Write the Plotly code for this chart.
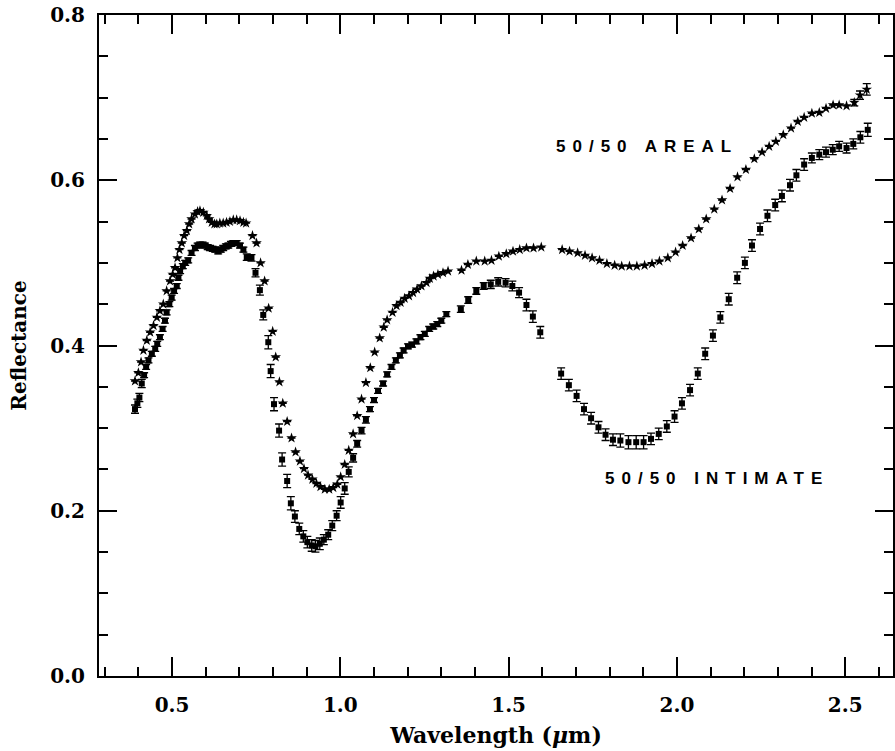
import plotly.graph_objects as go

# ---------------- data ----------------
areal_x = [0.390, 0.400, 0.408, 0.415, 0.425, 0.435, 0.445, 0.455, 0.464, 0.474,
           0.484, 0.494, 0.502, 0.509, 0.516, 0.522, 0.529, 0.536, 0.544, 0.551,
           0.558, 0.568, 0.576, 0.583, 0.593, 0.603, 0.610, 0.618, 0.626, 0.633,
           0.642, 0.652, 0.662, 0.672, 0.682, 0.692, 0.702, 0.712, 0.720,
           0.739, 0.751, 0.763, 0.775, 0.787, 0.799, 0.808, 0.819, 0.829, 0.842,
           0.855, 0.867, 0.880, 0.892, 0.904, 0.917, 0.929, 0.941, 0.954, 0.967,
           0.979, 0.991, 1.001, 1.013, 1.025, 1.038, 1.050, 1.063, 1.076,
           1.089, 1.102, 1.117, 1.129, 1.139, 1.155, 1.167, 1.179, 1.191, 1.204,
           1.216, 1.228, 1.241, 1.256, 1.266, 1.277, 1.290, 1.305, 1.320,
           1.360, 1.379, 1.404, 1.429, 1.449, 1.471, 1.493, 1.513, 1.533, 1.553, 1.574, 1.597,
           1.659, 1.681, 1.705, 1.727, 1.748, 1.770, 1.792, 1.815, 1.836, 1.859,
           1.881, 1.904, 1.926, 1.948, 1.973, 1.996, 2.017, 2.042, 2.065, 2.087,
           2.111, 2.134, 2.158, 2.180, 2.205, 2.230, 2.253, 2.274, 2.294, 2.316,
           2.339, 2.359, 2.378, 2.401, 2.423, 2.443, 2.464, 2.482, 2.504, 2.527,
           2.544, 2.564]
areal_y = [0.357, 0.367, 0.380, 0.394, 0.406, 0.416, 0.424, 0.434, 0.442, 0.450,
           0.466, 0.478, 0.486, 0.494, 0.506, 0.516, 0.524, 0.533, 0.539, 0.547,
           0.553, 0.559, 0.562, 0.563, 0.561, 0.557, 0.553, 0.549, 0.547, 0.547,
           0.548, 0.548, 0.549, 0.550, 0.552, 0.552, 0.551, 0.549, 0.548,
           0.533, 0.524, 0.500, 0.478, 0.445, 0.417, 0.386, 0.356, 0.330, 0.308,
           0.288, 0.271, 0.260, 0.251, 0.243, 0.238, 0.233, 0.229, 0.226, 0.226,
           0.228, 0.232, 0.241, 0.256, 0.273, 0.293, 0.315, 0.335, 0.355,
           0.373, 0.392, 0.409, 0.422, 0.431, 0.440, 0.448, 0.452, 0.457, 0.460,
           0.464, 0.468, 0.472, 0.476, 0.481, 0.484, 0.486, 0.488, 0.490,
           0.491, 0.498, 0.502, 0.502, 0.503, 0.508, 0.511, 0.514, 0.516, 0.518, 0.518, 0.519,
           0.516, 0.514, 0.512, 0.509, 0.506, 0.503, 0.499, 0.497, 0.496, 0.496,
           0.496, 0.497, 0.499, 0.502, 0.506, 0.513, 0.521, 0.530, 0.541, 0.553,
           0.565, 0.576, 0.590, 0.604, 0.613, 0.626, 0.634, 0.641, 0.647, 0.655,
           0.663, 0.671, 0.676, 0.681, 0.682, 0.687, 0.691, 0.691, 0.690, 0.694,
           0.703, 0.710]
areal_err = [0, 0, 0, 0, 0, 0, 0, 0, 0, 0,
             0, 0, 0, 0, 0, 0, 0, 0, 0, 0,
             0, 0, 0, 0, 0, 0, 0, 0, 0, 0,
             0, 0, 0, 0, 0, 0, 0, 0, 0,
             0, 0, 0, 0, 0, 0, 0, 0, 0, 0,
             0, 0, 0, 0, 0, 0, 0, 0, 0, 0,
             0, 0, 0, 0, 0, 0, 0, 0, 0,
             0, 0, 0, 0, 0, 0, 0, 0, 0, 0,
             0, 0, 0, 0, 0, 0, 0, 0, 0,
             0, 0, 0, 0, 0, 0, 0, 0, 0, 0, 0, 0,
             0, 0, 0, 0, 0, 0, 0, 0, 0, 0,
             0, 0, 0, 0, 0, 0, 0, 0, 0, 0,
             0, 0, 0, 0, 0, 0, 0, 0, 0, 0,
             0, 0, 0, 0, 0, 0, 0, 0, 0, 0.004,
             0.005, 0.007]

intimate_x = [0.390, 0.397, 0.403, 0.410, 0.417, 0.423, 0.430, 0.440, 0.450, 0.456,
              0.464, 0.472, 0.479, 0.484, 0.492, 0.499, 0.506, 0.514, 0.519, 0.524,
              0.532, 0.539, 0.548, 0.558, 0.568, 0.576, 0.583, 0.591, 0.598, 0.606,
              0.613, 0.621, 0.628, 0.637, 0.645, 0.652, 0.660, 0.667, 0.675, 0.682,
              0.692, 0.702, 0.712,
              0.722, 0.736, 0.748, 0.761, 0.771, 0.786, 0.793, 0.803, 0.818, 0.827,
              0.842, 0.853, 0.865, 0.878, 0.890, 0.902, 0.915, 0.926, 0.939, 0.951,
              0.964, 0.976, 0.989, 1.001, 1.013, 1.025, 1.038, 1.050, 1.063, 1.076,
              1.088, 1.100, 1.112, 1.127, 1.139, 1.152, 1.165, 1.177, 1.188, 1.201,
              1.213, 1.226, 1.238, 1.251, 1.264, 1.276, 1.288, 1.300, 1.315,
              1.358, 1.380, 1.404, 1.426, 1.447, 1.469, 1.491, 1.511, 1.531, 1.553, 1.572, 1.594,
              1.656, 1.679, 1.702, 1.724, 1.745, 1.767, 1.788, 1.810, 1.832, 1.856,
              1.879, 1.901, 1.923, 1.946, 1.970, 1.993, 2.015, 2.039, 2.062, 2.084,
              2.107, 2.129, 2.154, 2.179, 2.202, 2.223, 2.247, 2.269, 2.292, 2.312,
              2.336, 2.355, 2.378, 2.401, 2.423, 2.443, 2.463, 2.482, 2.504, 2.524,
              2.545, 2.567]
intimate_y = [0.323, 0.330, 0.337, 0.354, 0.364, 0.374, 0.382, 0.390, 0.396, 0.402,
              0.410, 0.420, 0.430, 0.440, 0.450, 0.458, 0.466, 0.472, 0.482, 0.490,
              0.496, 0.500, 0.503, 0.512, 0.518, 0.521, 0.522, 0.522, 0.521, 0.519,
              0.518, 0.517, 0.516, 0.514, 0.516, 0.518, 0.520, 0.521, 0.523, 0.524,
              0.524, 0.521, 0.516,
              0.507, 0.506, 0.488, 0.467, 0.437, 0.404, 0.369, 0.329, 0.297, 0.262,
              0.236, 0.209, 0.193, 0.178, 0.169, 0.162, 0.158, 0.157, 0.160, 0.165,
              0.171, 0.182, 0.194, 0.210, 0.227, 0.247, 0.264, 0.281, 0.297, 0.310,
              0.323, 0.334, 0.345, 0.354, 0.365, 0.374, 0.382, 0.388, 0.394, 0.399,
              0.401, 0.405, 0.410, 0.414, 0.420, 0.423, 0.426, 0.430, 0.438,
              0.444, 0.455, 0.466, 0.472, 0.474, 0.477, 0.476, 0.472, 0.464, 0.449, 0.435, 0.416,
              0.366, 0.352, 0.339, 0.323, 0.312, 0.301, 0.292, 0.286, 0.285, 0.283,
              0.283, 0.283, 0.287, 0.293, 0.302, 0.314, 0.330, 0.346, 0.366, 0.390,
              0.412, 0.434, 0.456, 0.482, 0.500, 0.521, 0.541, 0.557, 0.570, 0.581,
              0.594, 0.606, 0.619, 0.627, 0.631, 0.634, 0.637, 0.641, 0.639, 0.644,
              0.652, 0.661]
intimate_err = [0.005, 0.005, 0.005, 0.005, 0.003, 0.003, 0.003, 0.003, 0.003, 0.003,
                0.003, 0.003, 0.003, 0.003, 0.003, 0.003, 0.003, 0.003, 0.003, 0.003,
                0.003, 0.003, 0.003, 0.003, 0.003, 0.003, 0.003, 0.003, 0.003, 0.003,
                0.003, 0.003, 0.003, 0.003, 0.003, 0.003, 0.003, 0.003, 0.003, 0.003,
                0.003, 0.003, 0.003,
                0.004, 0.004, 0.005, 0.006, 0.006, 0.008, 0.008, 0.008, 0.008, 0.008,
                0.008, 0.008, 0.007, 0.007, 0.007, 0.007, 0.007, 0.007, 0.007, 0.006,
                0.006, 0.006, 0.006, 0.007, 0.007, 0.006, 0.005, 0.004, 0.004, 0.004,
                0.003, 0.003, 0.003, 0.003, 0.003, 0.003, 0.003, 0.003, 0.003, 0.003,
                0.003, 0.003, 0.003, 0.003, 0.003, 0.003, 0.003, 0.003, 0.003,
                0.004, 0.004, 0.004, 0.004, 0.005, 0.005, 0.005, 0.006, 0.006, 0.007, 0.007, 0.007,
                0.007, 0.007, 0.007, 0.007, 0.007, 0.007, 0.007, 0.007, 0.008, 0.008,
                0.008, 0.008, 0.007, 0.007, 0.007, 0.007, 0.007, 0.007, 0.007, 0.007,
                0.007, 0.007, 0.007, 0.007, 0.007, 0.007, 0.007, 0.007, 0.007, 0.007,
                0.007, 0.007, 0.007, 0.006, 0.006, 0.006, 0.006, 0.006, 0.006, 0.006,
                0.007, 0.008]

label_areal = "50/50 AREAL"
label_intimate = "50/50 INTIMATE"

assert len(areal_x) == len(areal_y) == len(areal_err)
assert len(intimate_x) == len(intimate_y) == len(intimate_err)

# ---------------- figure ----------------
fig = go.Figure()

fig.add_trace(go.Scatter(
    x=intimate_x, y=intimate_y, mode="markers", name="50/50 Intimate",
    marker=dict(symbol="square", size=6, color="black"),
    error_y=dict(type="data", array=intimate_err, visible=True,
                 color="black", thickness=1.3, width=4),
    showlegend=False,
))
fig.add_trace(go.Scatter(
    x=areal_x, y=areal_y, mode="markers", name="50/50 Areal",
    marker=dict(symbol="star", size=8, color="black"),
    error_y=dict(type="data", array=areal_err, visible=True,
                 color="black", thickness=1.3, width=4),
    showlegend=False,
))

label_font = dict(family="Liberation Sans", size=17, color="black", weight="bold")
fig.add_annotation(x=1.912, y=0.641, xref="x", yref="y", showarrow=False,
                   text='<span style="letter-spacing:7px">' + label_areal + '</span>',
                   font=label_font)
fig.add_annotation(x=2.12, y=0.239, xref="x", yref="y", showarrow=False,
                   text='<span style="letter-spacing:7px">' + label_intimate + '</span>',
                   font=label_font)

tick_font = dict(family="DejaVu Serif", size=20, color="black", weight="bold")
title_font_x = dict(family="DejaVu Serif", size=22, color="black", weight="bold")
title_font_y = dict(family="DejaVu Serif", size=20, color="black", weight="bold")

fig.update_xaxes(
    range=[0.283, 2.642], showgrid=False, zeroline=False,
    showline=True, linewidth=2, linecolor="black", mirror="allticks",
    ticks="inside", ticklen=19, tickwidth=1.5, tickcolor="black",
    tick0=0.5, dtick=0.5, tickformat=".1f", tickfont=tick_font,
    ticklabelstandoff=10,
    minor=dict(ticks="inside", dtick=0.1, tick0=0.0, ticklen=9,
               tickwidth=1.5, tickcolor="black", showgrid=False),
    title=dict(text="Wavelength (<i>μ</i>m)", font=title_font_x, standoff=12),
)
fig.update_yaxes(
    range=[0, 0.8], showgrid=False, zeroline=False,
    showline=True, linewidth=2, linecolor="black", mirror="allticks",
    ticks="inside", ticklen=18, tickwidth=1.5, tickcolor="black",
    tick0=0, dtick=0.2, tickformat=".1f", tickfont=tick_font,
    ticklabelstandoff=8,
    minor=dict(ticks="inside", dtick=0.05, tick0=0.0, ticklen=9,
               tickwidth=1.5, tickcolor="black", showgrid=False),
    title=dict(text="Reflectance", font=title_font_y, standoff=18),
)

fig.update_layout(
    width=895, height=751,
    margin=dict(l=99, r=2, t=15, b=75, autoexpand=False),
    paper_bgcolor="white", plot_bgcolor="white",
)

fig.write_html("out.html")
